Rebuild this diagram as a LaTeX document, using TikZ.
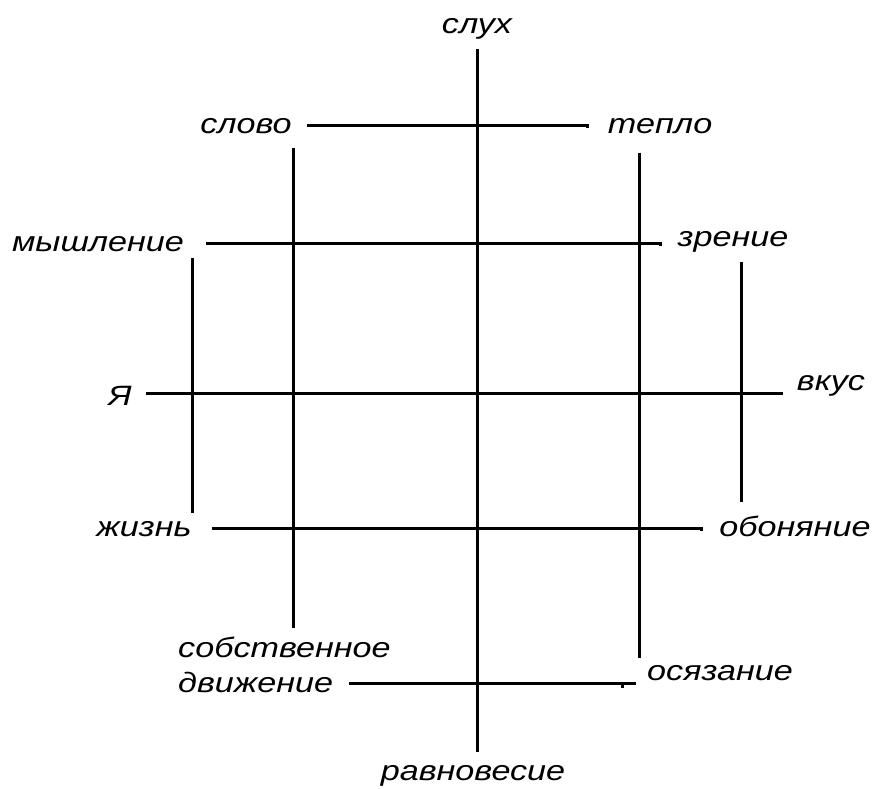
\documentclass[tikz,border=0pt]{standalone}
\usepackage{fontspec}
\setmainfont{Liberation Sans}
\newcommand\wlab[1]{\scalebox{1.22}[1]{#1}}
\begin{document}
\begin{tikzpicture}[x=1pt,y=-1pt,
  lab/.style={font=\fontsize{28}{36}\selectfont\itshape, inner sep=0pt, anchor=base},
  ln/.style={line width=3pt}]
\useasboundingbox (0,0) rectangle (875,788);
% labels
\node[lab] (slukh) at (477,33) {\wlab{слух}};
\node[lab] (slovo) at (246,133) {\wlab{слово}};
\node[lab] (teplo) at (660,133) {\wlab{тепло}};
\node[lab] (mysh) at (98,251) {\wlab{мышление}};
\node[lab] (zren) at (733,246) {\wlab{зрение}};
\node[lab] (ya) at (120,405) {\wlab{Я}};
\node[lab] (vkus) at (831,390) {\wlab{вкус}};
\node[lab] (zhizn) at (144,536) {\wlab{жизнь}};
\node[lab] (obon) at (795,536) {\wlab{обоняние}};
\node[lab, anchor=base west] (sobst) at (178,657) {\wlab{собственное}};
\node[lab, anchor=base west] (dvizh) at (178,692) {\wlab{движение}};
\node[lab] (osyaz) at (720,680) {\wlab{осязание}};
\node[lab] (ravn) at (473,780) {\wlab{равновесие}};
% line end points
\coordinate (v0t) at (477,49);  \coordinate (v0b) at (477,752);
\coordinate (v1t) at (192,258); \coordinate (v1b) at (192,513);
\coordinate (v2t) at (293,148); \coordinate (v2b) at (293,628);
\coordinate (v3t) at (639,153); \coordinate (v3b) at (639,658);
\coordinate (v4t) at (741,262); \coordinate (v4b) at (741,502);
\coordinate (h1l) at (307,125); \coordinate (h1r) at (587,125);
\coordinate (h2l) at (206,243); \coordinate (h2r) at (660,243);
\coordinate (h3l) at (146,393); \coordinate (h3r) at (783,393);
\coordinate (h4l) at (212,528); \coordinate (h4r) at (701,528);
\coordinate (h5l) at (349,683); \coordinate (h5r) at (636,683);
\coordinate (h5t) at (622,683);
% vertical lines
\draw[ln] (v0t) -- (v0b);
\draw[ln] (v1t) -- (v1b);
\draw[ln] (v2t) -- (v2b);
\draw[ln] (v3t) -- (v3b);
\draw[ln] (v4t) -- (v4b);
% horizontal lines
\draw[ln] (h1l) -- (h1r) -- ++(0,3);
\draw[ln] (h2l) -- (h2r) -- ++(0,3);
\draw[ln] (h3l) -- (h3r);
\draw[ln] (h4l) -- (h4r) -- ++(0,3);
\draw[ln] (h5l) -- (h5r);
\draw[ln] (h5t) -- ++(0,5);
\end{tikzpicture}
\end{document}
